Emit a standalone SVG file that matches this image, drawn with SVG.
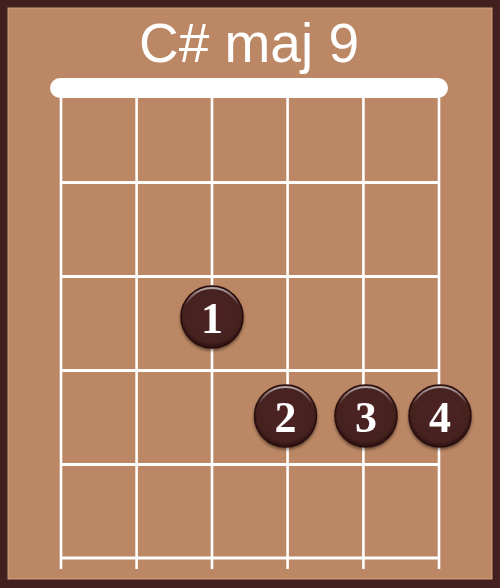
<svg xmlns="http://www.w3.org/2000/svg" width="500" height="588" viewBox="0 0 500 588">
  <style>
    .str { stroke: #ffffff; stroke-width: 2.6; }
    .fret { stroke: #ffffff; stroke-width: 3.2; }
    .title { font-family: "Liberation Sans", Arial, sans-serif; font-size: 55px; fill: #ffffff; text-anchor: middle; }
    .num { font-family: "Liberation Serif", "Times New Roman", serif; font-weight: bold; font-size: 44px; fill: #ffffff; text-anchor: middle; }
  </style>
  <defs>
    <radialGradient id="dotg" cx="50%" cy="45%" r="55%">
      <stop offset="0" stop-color="#4f2322"/>
      <stop offset="0.85" stop-color="#44201f"/>
      <stop offset="1" stop-color="#2a1010"/>
    </radialGradient>
    <linearGradient id="hl" x1="0" y1="0" x2="0" y2="1">
      <stop offset="0" stop-color="#ffffff" stop-opacity="0.6"/>
      <stop offset="0.3" stop-color="#ffffff" stop-opacity="0"/>
    </linearGradient>
    <filter id="sh" x="-30%" y="-30%" width="160%" height="160%">
      <feGaussianBlur in="SourceAlpha" stdDeviation="1.5"/>
      <feOffset dx="0" dy="2" result="b"/>
      <feFlood flood-color="#000000" flood-opacity="0.45"/>
      <feComposite in2="b" operator="in"/>
      <feMerge><feMergeNode/><feMergeNode in="SourceGraphic"/></feMerge>
    </filter>
    <g id="dot">
      <circle r="31" fill="url(#dotg)" stroke="#2a0f0f" stroke-width="1.5"/>
      <circle r="29" fill="none" stroke="url(#hl)" stroke-width="2"/>
    </g>
  </defs>

  <rect x="0" y="0" width="500" height="588" fill="#42201f"/>
  <rect x="8" y="8" width="484" height="571" fill="#bb8764" stroke="#d2a27e" stroke-width="1"/>

  <g id="title">
    <text class="title" x="249" y="62">C# maj 9</text>
  </g>

  <g id="grid">
    <g id="strings">
      <line class="str" x1="61" y1="90" x2="61" y2="569"/>
      <line class="str" x1="136.6" y1="90" x2="136.6" y2="569"/>
      <line class="str" x1="212" y1="90" x2="212" y2="569"/>
      <line class="str" x1="287.6" y1="90" x2="287.6" y2="569"/>
      <line class="str" x1="363.4" y1="90" x2="363.4" y2="569"/>
      <line class="str" x1="439" y1="90" x2="439" y2="569"/>
    </g>
    <g id="frets">
      <line class="fret" x1="61" y1="182.5" x2="439" y2="182.5"/>
      <line class="fret" x1="61" y1="276.5" x2="439" y2="276.5"/>
      <line class="fret" x1="61" y1="370.5" x2="439" y2="370.5"/>
      <line class="fret" x1="61" y1="464.5" x2="439" y2="464.5"/>
      <line class="fret" x1="61" y1="558" x2="439" y2="558"/>
    </g>
    <rect id="nut" x="50" y="78" width="398" height="20" rx="10" fill="#ffffff"/>
  </g>

  <g id="finger1" filter="url(#sh)">
    <use href="#dot" x="212" y="317"/>
    <text class="num" x="212" y="333">1</text>
  </g>
  <g id="finger2" filter="url(#sh)">
    <use href="#dot" x="285.5" y="416"/>
    <text class="num" x="285.5" y="432">2</text>
  </g>
  <g id="finger3" filter="url(#sh)">
    <use href="#dot" x="366" y="416"/>
    <text class="num" x="366" y="432">3</text>
  </g>
  <g id="finger4" filter="url(#sh)">
    <use href="#dot" x="440" y="416"/>
    <text class="num" x="440" y="432">4</text>
  </g>
</svg>
